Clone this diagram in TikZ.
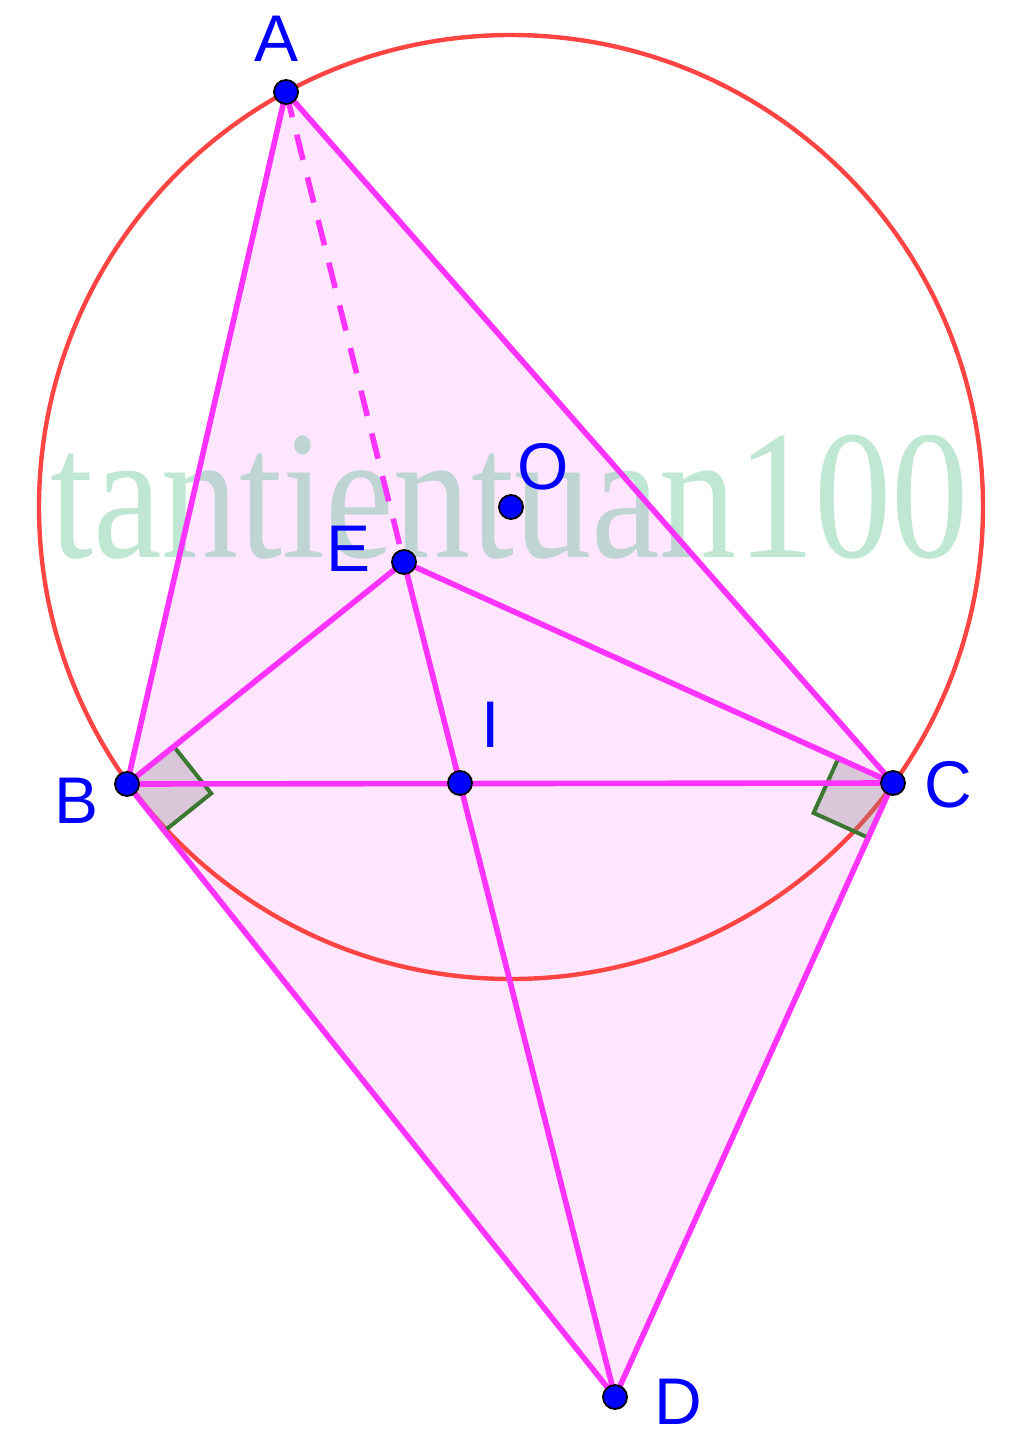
\documentclass[tikz,border=0pt]{standalone}
\usepackage{fontspec}
\newfontfamily\labelfont{Liberation Sans}
\newfontfamily\markfont{Liberation Serif}
\usetikzlibrary{calc}
\definecolor{magline}{RGB}{255,51,255}
\definecolor{circred}{RGB}{255,68,68}
\definecolor{anglegreen}{RGB}{60,120,50}
\definecolor{markgreen}{RGB}{0,160,80}

\begin{document}
\begin{tikzpicture}[x=0.5pt,y=-0.5pt,
  seg/.style={draw=magline,line width=2.8pt},
  pt/.style={circle,fill=blue,draw=black,line width=0.9pt,inner sep=0pt,minimum size=12pt},
  lbl/.style={text=blue,font=\labelfont\fontsize{33}{33}\selectfont,inner sep=0pt},
  rightangle/.style={draw=anglegreen,line width=2pt,line join=miter},
  anglefill/.style={fill=gray,fill opacity=0.3}]
\useasboundingbox (0,0) rectangle (1024,1439);

% Points
\coordinate (A) at (286,92);
\coordinate (B) at (127,784);
\coordinate (C) at (893,783);
\coordinate (O) at (511,507);
\coordinate (E) at (404,562);
\coordinate (I) at (460,783);
\coordinate (D) at (615,1397);

% Shaded region
\fill[magline,fill opacity=0.12] (A) -- (B) -- (D) -- (C) -- cycle;

% Watermark
\node[anchor=base west,inner sep=0pt,xscale=0.84,text=markgreen,text opacity=0.25,
  font=\markfont\fontsize{92}{92}\selectfont] (mark) at (50,557) {tantientuan100};

% Circle
\draw[circred,line width=2.2pt] (O) circle (472);

% Right angles
\path ($(B)!30pt!(E)$) coordinate (B1) ($(B)!30pt!(D)$) coordinate (B2);
\coordinate (B3) at ($(B1)+(B2)-(B)$);
\path ($(C)!30pt!(E)$) coordinate (C1) ($(C)!30pt!(D)$) coordinate (C2);
\coordinate (C3) at ($(C1)+(C2)-(C)$);
\fill[anglefill] (B) -- (B1) -- (B3) -- (B2) -- cycle;
\fill[anglefill] (C) -- (C1) -- (C3) -- (C2) -- cycle;
\draw[rightangle] (B1) -- (B3) -- (B2);
\draw[rightangle] (C1) -- (C3) -- (C2);

% Segments
\draw[seg] (A) -- (B) -- (C) -- cycle;
\draw[seg] (B) -- (D) -- (C);
\draw[seg] (B) -- (E) -- (C);
\draw[seg] (E) -- (D);
\draw[seg,dash pattern=on 13pt off 9pt] (A) -- (E);

% Dots
\foreach \p in {A,B,C,O,E,I,D}
  \node[pt] (d\p) at (\p) {};

% Text Node
\node[lbl] (lA) at (277,39) {A};
\node[lbl] (lB) at (77,801) {B};
\node[lbl] (lC) at (948,785) {C};
\node[lbl] (lO) at (543,467) {O};
\node[lbl] (lE) at (349,549) {E};
\node[lbl] (lI) at (491,725) {I};
\node[lbl] (lD) at (678,1402) {D};

\end{tikzpicture}
\end{document}
